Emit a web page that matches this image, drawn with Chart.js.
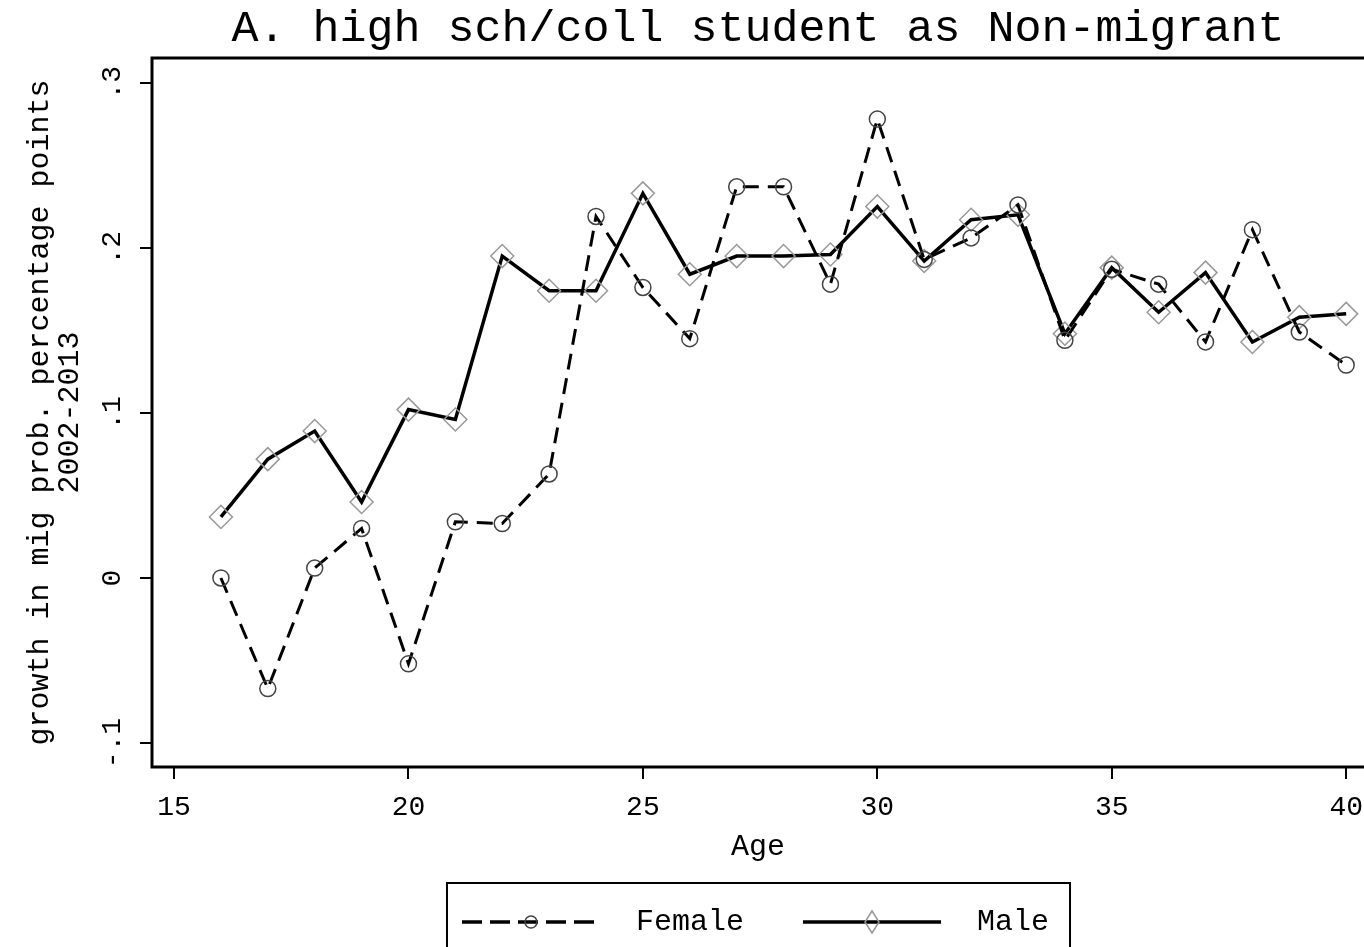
<!DOCTYPE html>
<html>
<head>
<meta charset="utf-8">
<script src="https://cdn.jsdelivr.net/npm/chart.js@4.4.1/dist/chart.umd.min.js"></script>
<style>
    body { margin: 0; background: #fff; }
    canvas { display: block; }
</style>
</head>
<body>
<canvas id="migChart" width="1364" height="947"></canvas>
<script>
const ages = [16, 17, 18, 19, 20, 21, 22, 23, 24, 25, 26, 27, 28, 29, 30, 31, 32, 33, 34, 35, 36, 37, 38, 39, 40];
const female = [0.000, -0.067, 0.006, 0.030, -0.052, 0.034, 0.033, 0.063, 0.219, 0.176, 0.145, 0.237, 0.237, 0.178, 0.278, 0.193, 0.206, 0.226, 0.144, 0.187, 0.178, 0.143, 0.211, 0.149, 0.129];
const male = [0.037, 0.072, 0.089, 0.046, 0.102, 0.096, 0.195, 0.174, 0.174, 0.233, 0.184, 0.195, 0.195, 0.196, 0.225, 0.192, 0.217, 0.220, 0.148, 0.188, 0.161, 0.185, 0.143, 0.158, 0.160];
const seriesNames = ['Female', 'Male'];
const xTicks = [15, 20, 25, 30, 35, 40];
const yTicks = [-0.1, 0, 0.1, 0.2, 0.3];
const yTickLabels = ['-.1', '0', '.1', '.2', '.3'];

const FONT = "'Liberation Mono', 'DejaVu Sans Mono', monospace";
const LEGEND_PAD = 38;

document.addEventListener('DOMContentLoaded', () => {
    initMigChart();
});

function makeLegendIcon(dashed) {
    const c = document.createElement('canvas');
    c.width = 138;
    c.height = 30;
    const g = c.getContext('2d');
    g.strokeStyle = '#000';
    g.lineWidth = 3.5;
    if (dashed) g.setLineDash([20, 8]);
    g.beginPath();
    g.moveTo(0, 15);
    g.lineTo(138, 15);
    g.stroke();
    g.setLineDash([]);
    g.lineWidth = 1.5;
    if (dashed) {
        g.strokeStyle = '#444';
        g.beginPath();
        g.arc(69, 15, 6, 0, Math.PI * 2);
        g.stroke();
    } else {
        g.strokeStyle = '#999';
        g.beginPath();
        g.moveTo(69, 4); g.lineTo(76, 15); g.lineTo(69, 26); g.lineTo(62, 15);
        g.closePath();
        g.stroke();
    }
    return c;
}

// plot box, rotated y tick labels and the framed legend
const stataFrame = {
    id: 'stataFrame',
    afterLayout(chart) {
        const lg = chart.legend;
        if (lg) { lg.left -= 13; lg.right -= 13; }
    },
    afterDraw(chart) {
        const { ctx, chartArea } = chart;
        const ys = chart.scales.y;
        ctx.save();
        ctx.strokeStyle = '#000';
        ctx.lineWidth = 3;
        ctx.beginPath();
        ctx.moveTo(chartArea.right + 2, chartArea.top);
        ctx.lineTo(chartArea.left, chartArea.top);
        ctx.lineTo(chartArea.left, chartArea.bottom);
        ctx.lineTo(chartArea.right + 2, chartArea.bottom);
        ctx.stroke();

        ctx.fillStyle = '#000';
        ctx.font = '28px ' + FONT;
        ctx.textAlign = 'center';
        ctx.textBaseline = 'middle';
        yTicks.forEach((v, i) => {
            ctx.save();
            ctx.translate(113, ys.getPixelForValue(v));
            ctx.rotate(-Math.PI / 2);
            ctx.fillText(yTickLabels[i], 0, 0);
            ctx.restore();
        });

        const lg = chart.legend;
        if (lg && lg.lineWidths) {
            const lineW = lg.lineWidths[0];
            const start = (lg.left + LEGEND_PAD + lg.right - lineW) / 2;
            const left = start + 6;
            const right = start + lineW - LEGEND_PAD + 21;
            const top = lg.top + 14;
            ctx.lineWidth = 2;
            ctx.strokeRect(left, top, right - left, 200);
        }
        ctx.restore();
    }
};

function initMigChart() {
    const ctx = document.getElementById('migChart');
    if (!ctx) return;

    const icons = [makeLegendIcon(true), makeLegendIcon(false)];

    const chartData = {
        datasets: [{
            label: seriesNames[0],
            data: ages.map((a, i) => ({ x: a, y: female[i] })),
            borderColor: '#000',
            borderWidth: 3,
            borderDash: [16, 9],
            pointStyle: 'circle',
            pointRadius: 8,
            pointBorderColor: '#444',
            pointBorderWidth: 1.5,
            pointBackgroundColor: 'rgba(0,0,0,0)',
            tension: 0
        }, {
            label: seriesNames[1],
            data: ages.map((a, i) => ({ x: a, y: male[i] })),
            borderColor: '#000',
            borderWidth: 3.5,
            pointStyle: 'rectRot',
            pointRadius: 11.5,
            pointBorderColor: '#999',
            pointBorderWidth: 1.5,
            pointBackgroundColor: 'rgba(0,0,0,0)',
            tension: 0
        }]
    };

    const options = {
        responsive: false,
        animation: false,
        layout: { padding: 0, autoPadding: false },
        plugins: {
            title: {
                display: true,
                text: 'A. high sch/coll student as Non-migrant',
                color: '#000',
                fullSize: false,
                font: { family: FONT, size: 45, weight: 'normal', lineHeight: 1.2 },
                padding: { top: 2, bottom: 2 }
            },
            legend: {
                position: 'bottom',
                fullSize: false,
                labels: {
                    color: '#000',
                    font: { family: FONT, size: 30 },
                    usePointStyle: true,
                    pointStyleWidth: 180,
                    padding: LEGEND_PAD,
                    generateLabels(chart) {
                        const items = Chart.defaults.plugins.legend.labels.generateLabels(chart);
                        items.forEach((it, i) => {
                            it.pointStyle = icons[i];
                            it.fontColor = '#000';
                        });
                        return items;
                    }
                }
            },
            tooltip: { enabled: false }
        },
        scales: {
            x: {
                type: 'linear',
                min: 14.53,
                max: 40.38,
                afterBuildTicks: (scale) => { scale.ticks = xTicks.map(v => ({ value: v })); },
                afterFit: (scale) => {
                    scale.height = 102;
                    scale.paddingLeft = 0;
                    scale.paddingRight = 0;
                },
                border: { display: false },
                grid: { drawOnChartArea: false, drawTicks: true, tickLength: 12, color: '#000', lineWidth: 2 },
                ticks: {
                    color: '#000',
                    font: { family: FONT, size: 28 },
                    padding: 12,
                    maxRotation: 0,
                    callback: (v) => String(v)
                },
                title: {
                    display: true,
                    text: 'Age',
                    color: '#000',
                    font: { family: FONT, size: 30, lineHeight: 1.2 },
                    padding: { top: 0, bottom: 4 }
                }
            },
            y: {
                type: 'linear',
                min: -0.1145,
                max: 0.315,
                afterBuildTicks: (scale) => { scale.ticks = yTicks.map(v => ({ value: v })); },
                afterFit: (scale) => { scale.width = 152; },
                border: { display: false },
                grid: { drawOnChartArea: false, drawTicks: true, tickLength: 12, color: '#000', lineWidth: 2 },
                ticks: { display: false },
                title: {
                    display: true,
                    text: ['growth in mig prob. percentage points', '2002-2013'],
                    color: '#000',
                    font: { family: FONT, size: 30, lineHeight: 1.0 },
                    padding: { top: 25, bottom: 0 }
                }
            }
        }
    };

    new Chart(ctx, {
        type: 'line',
        data: chartData,
        options: options,
        plugins: [stataFrame]
    });
}
</script>
</body>
</html>
